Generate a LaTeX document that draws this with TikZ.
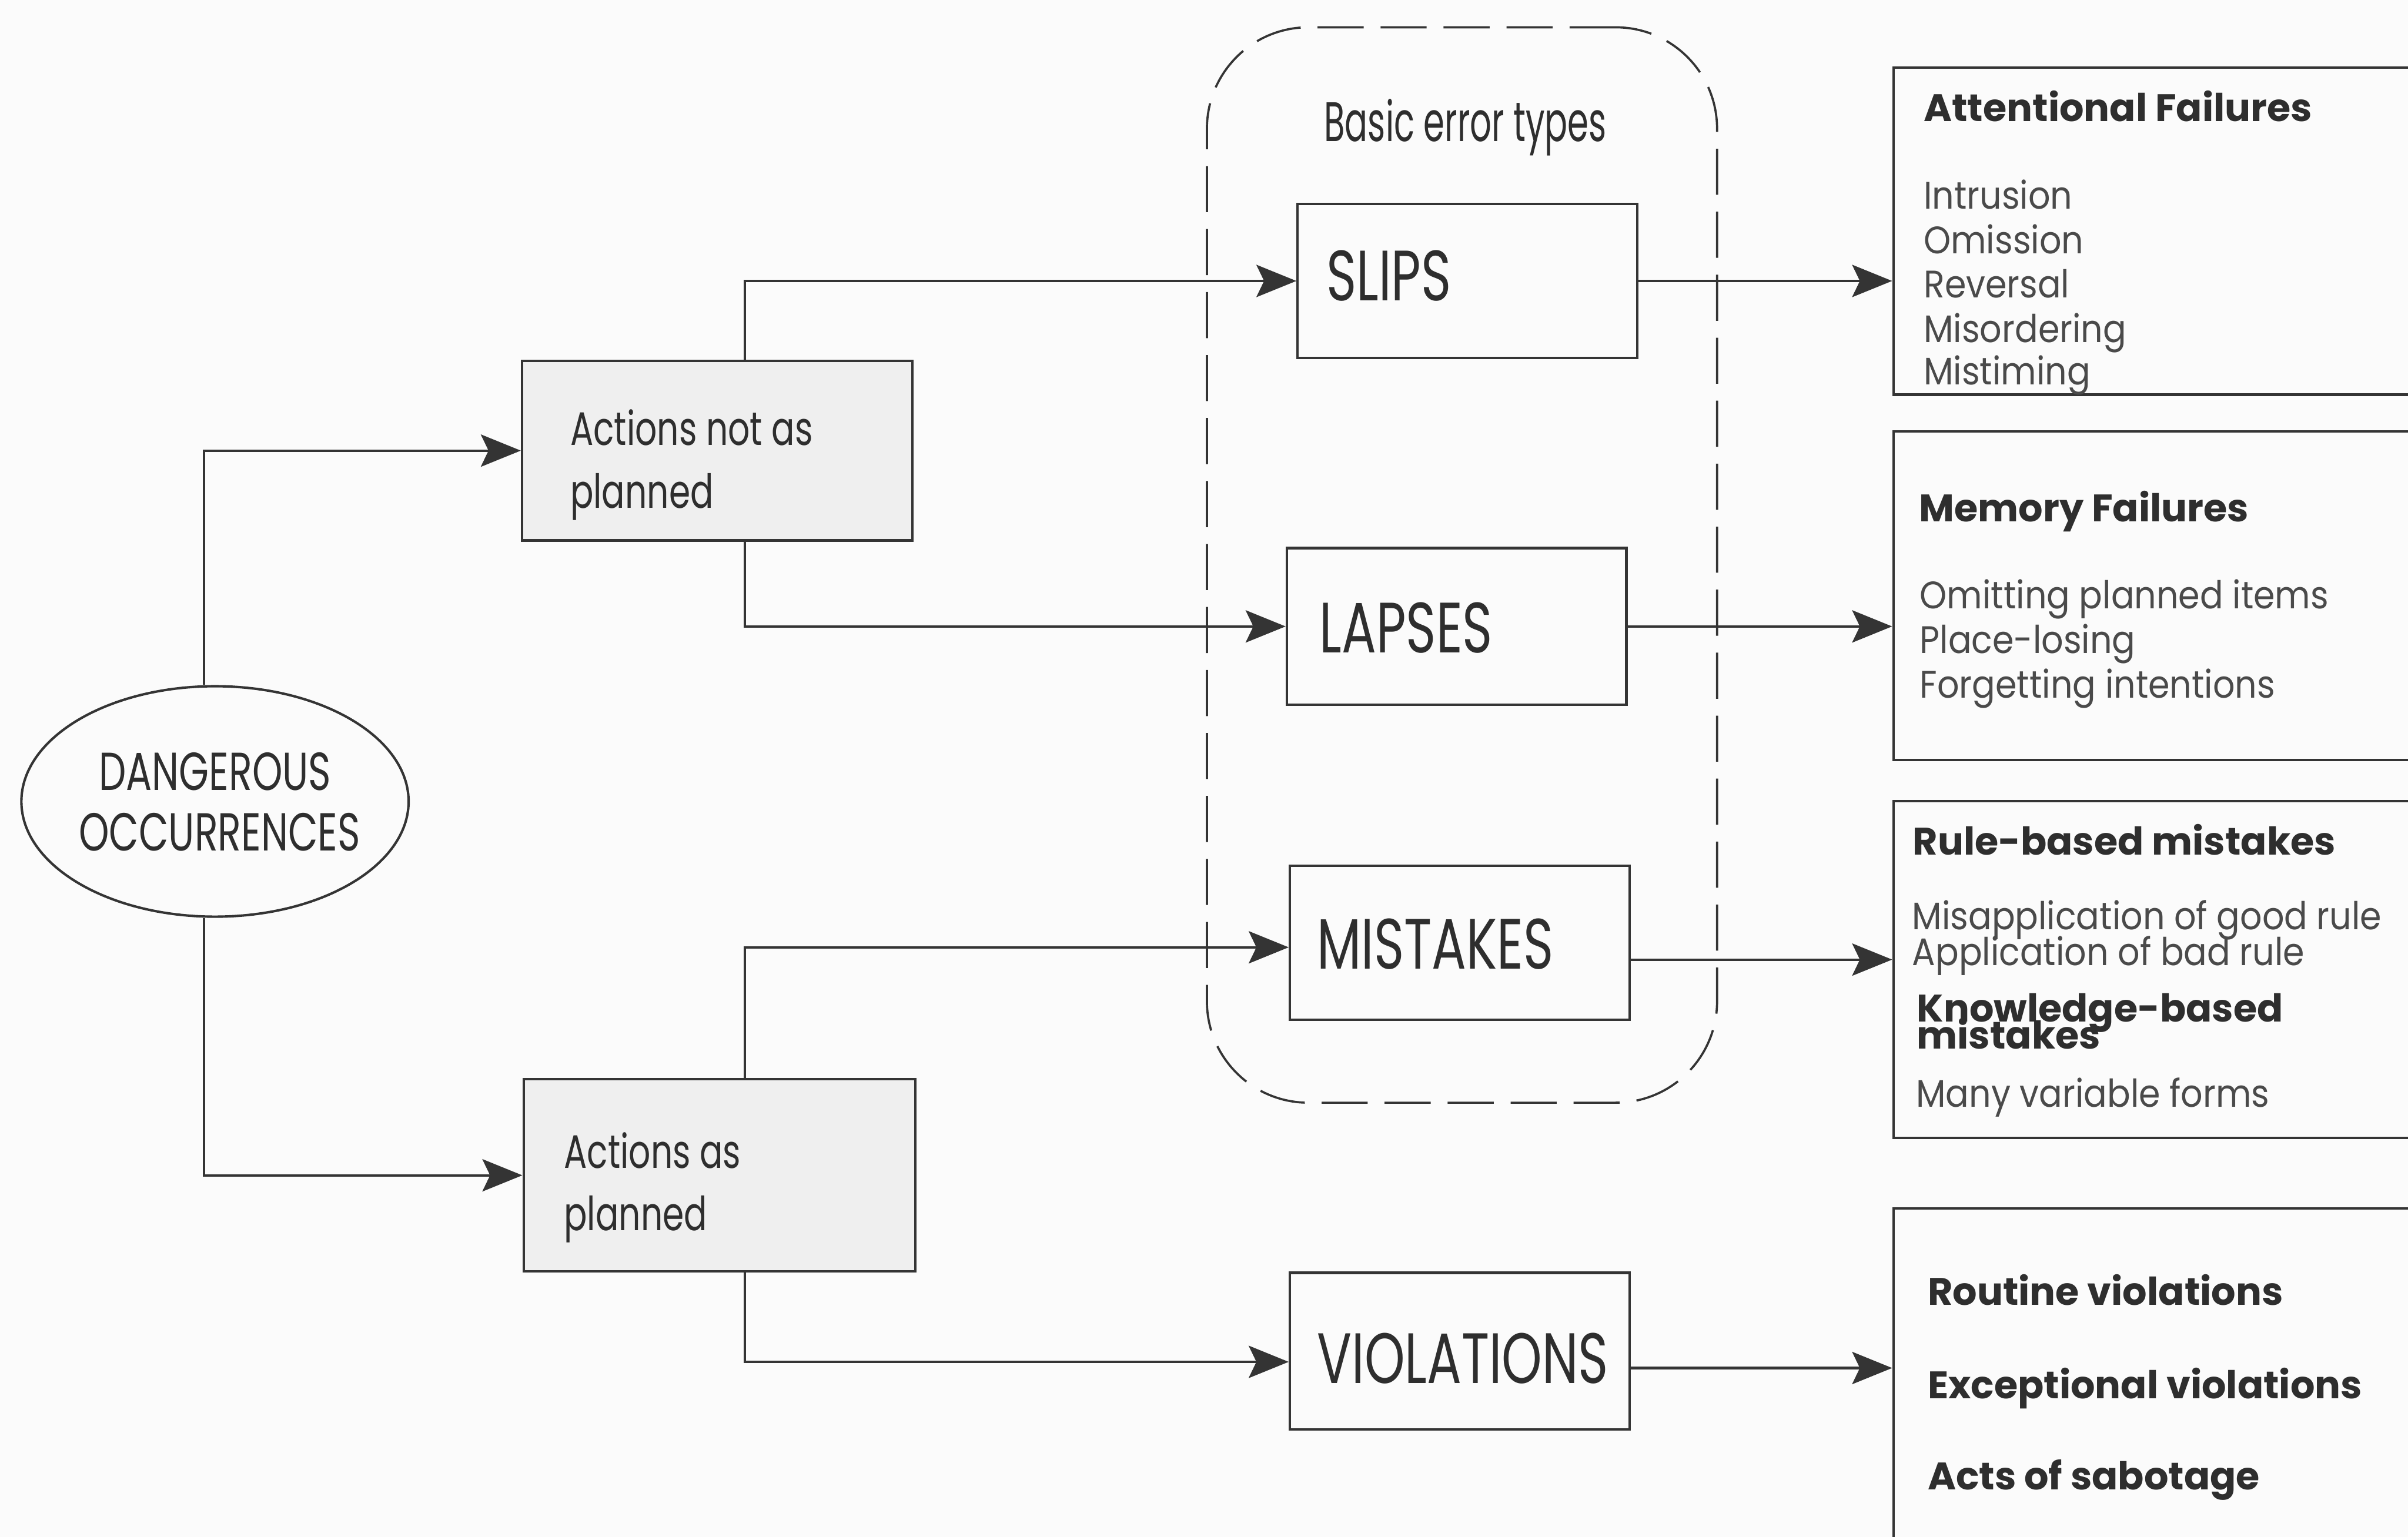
\documentclass[tikz,border=0pt]{standalone}
\usepackage{fontspec}
\setmainfont{Poppins}
\newfontfamily\condfont[FakeStretch=0.72]{Poppins}
\newfontfamily\condmid[FakeStretch=0.73]{Poppins}
\newfontfamily\condnarrow[FakeStretch=0.61]{Poppins}
\newfontfamily\itemfont[FakeStretch=0.9]{Poppins}
\usetikzlibrary{arrows.meta,shapes.geometric}
\definecolor{ink}{HTML}{343434}
\definecolor{txt}{HTML}{2E2E2E}
\definecolor{soft}{HTML}{4A4A4A}
\definecolor{paper}{HTML}{FBFBFB}
\definecolor{shade}{HTML}{EFEFEF}
\begin{document}
\begin{tikzpicture}[x=0.01cm,y=-0.01cm,
  line/.style={draw=ink, line width=0.45pt},
  arr/.style={line, -{Stealth[length=0.26cm,width=0.21cm,inset=0.05cm]}},
  box/.style={line, rectangle, inner sep=0pt},
  grey box/.style={box, fill=shade},
  txt/.style={inner sep=0pt, anchor=base west, text=txt},
  big label/.style={txt, font=\fontsize{13.2}{15}\condfont},
  mid label/.style={txt, font=\fontsize{8.7}{10}\condmid},
  head/.style={txt, font=\fontsize{7.1}{8}\selectfont\bfseries},
  item/.style={txt, text=soft, font=\fontsize{7.1}{8}\itemfont},
]
\useasboundingbox (0,0) rectangle (1568,1001);
\fill[paper] (0,0) rectangle (1568,1001);
\clip (0,0) rectangle (1568,1001);

% origin of the tree
\node[line, ellipse, inner sep=0pt, minimum width=2.52cm, minimum height=1.50cm] (occ) at (140,522) {};
\node[txt, anchor=base, font=\fontsize{9.9}{11}\condfont] (occA) at (140,514.8) {DANGEROUS};
\node[txt, anchor=base, font=\fontsize{9.9}{11}\condfont] (occB) at (143,554.3) {OCCURRENCES};

% the two kinds of action
\node[grey box, minimum width=2.54cm, minimum height=1.17cm] (anp) at (467,293.5) {};
\node[mid label] (anpA) at (370.7,290) {Actions not as};
\node[mid label] (anpB) at (370.7,331) {planned};

\node[grey box, minimum width=2.55cm, minimum height=1.25cm] (ap) at (468.5,765.5) {};
\node[mid label] (apA) at (366.6,760.7) {Actions as};
\node[mid label] (apB) at (366.6,801.6) {planned};

% basic error types
\node[draw=ink, line width=0.4pt, dash pattern=on 0.30cm off 0.11cm,
      rounded corners=0.66cm, minimum width=3.32cm, minimum height=7.00cm,
      inner sep=0pt] (group) at (952,368) {};
\node[txt, font=\fontsize{10.3}{12}\condnarrow] (groupT) at (861.6,92) {Basic error types};

\node[box, minimum width=2.21cm, minimum height=1.00cm] (slips) at (955.5,183) {};
\node[big label] (slipsT) at (863,195.8) {SLIPS};
\node[box, minimum width=2.21cm, minimum height=1.02cm] (lapses) at (948.5,408) {};
\node[big label] (lapsesT) at (858.6,425) {LAPSES};
\node[box, minimum width=2.21cm, minimum height=1.00cm] (mistakes) at (950.5,614) {};
\node[big label] (mistakesT) at (857,631) {MISTAKES};
\node[box, minimum width=2.21cm, minimum height=1.02cm] (violations) at (950.5,880) {};
\node[big label] (violationsT) at (857,901) {VIOLATIONS};

% descriptions on the right
\node[box, minimum width=4.07cm, minimum height=2.13cm] (attn) at (1436.5,150.5) {};
\node[head] (attnH) at (1252,79) {Attentional Failures};
\node[item] (attn1) at (1252,136.2) {Intrusion};
\node[item] (attn2) at (1252,165.3) {Omission};
\node[item] (attn3) at (1252,194.1) {Reversal};
\node[item] (attn4) at (1252,223.1) {Misordering};
\node[item] (attn5) at (1252,250.7) {Mistiming};

\node[box, minimum width=4.07cm, minimum height=2.14cm] (mem) at (1436.5,388) {};
\node[head] (memH) at (1249,339.8) {Memory Failures};
\node[item] (mem1) at (1249.5,396.5) {Omitting planned items};
\node[item] (mem2) at (1249.5,425.5) {Place-losing};
\node[item] (mem3) at (1249.5,454.5) {Forgetting intentions};

\node[box, minimum width=4.07cm, minimum height=2.19cm] (rule) at (1436.5,631.5) {};
\node[head] (ruleH) at (1244.8,557) {Rule-based mistakes};
\node[item] (rule1) at (1244.5,605.5) {Misapplication of good rule};
\node[item] (rule2) at (1244.5,628.7) {Application of bad rule};
\node[head] (knowH) at (1247.5,665.7) {Knowledge-based};
\node[head] (knowH2) at (1247.5,683) {mistakes};
\node[item] (know1) at (1247,721) {Many variable forms};

\node[box, minimum width=4.07cm, minimum height=2.53cm] (viol) at (1436.5,913.5) {};
\node[head] (viol1) at (1254.6,850) {Routine violations};
\node[head] (viol2) at (1254.6,911) {Exceptional violations};
\node[head] (viol3) at (1254.6,970.3) {Acts of sabotage};

% connectors
\draw[arr] ([xshift=-0.07cm]occ.north) |- (anp.west);
\draw[arr] ([xshift=-0.07cm]occ.south) |- (ap.west);

\draw[arr] ([xshift=0.18cm]anp.north) |- (slips.west);
\draw[arr] ([xshift=0.18cm]anp.south) |- (lapses.west);
\draw[arr] ([xshift=0.165cm]ap.north) |- ([yshift=-0.03cm]mistakes.west);
\draw[arr] ([xshift=0.165cm]ap.south) |- ([yshift=-0.07cm]violations.west);

\draw[arr] (slips.east) -- (slips.east -| attn.west);
\draw[arr] (lapses.east) -- (lapses.east -| mem.west);
\draw[arr] ([yshift=-0.11cm]mistakes.east) -- ([yshift=-0.11cm]mistakes.east -| rule.west);
\draw[arr] ([yshift=-0.11cm]violations.east) -- ([yshift=-0.11cm]violations.east -| viol.west);
\end{tikzpicture}
\end{document}
